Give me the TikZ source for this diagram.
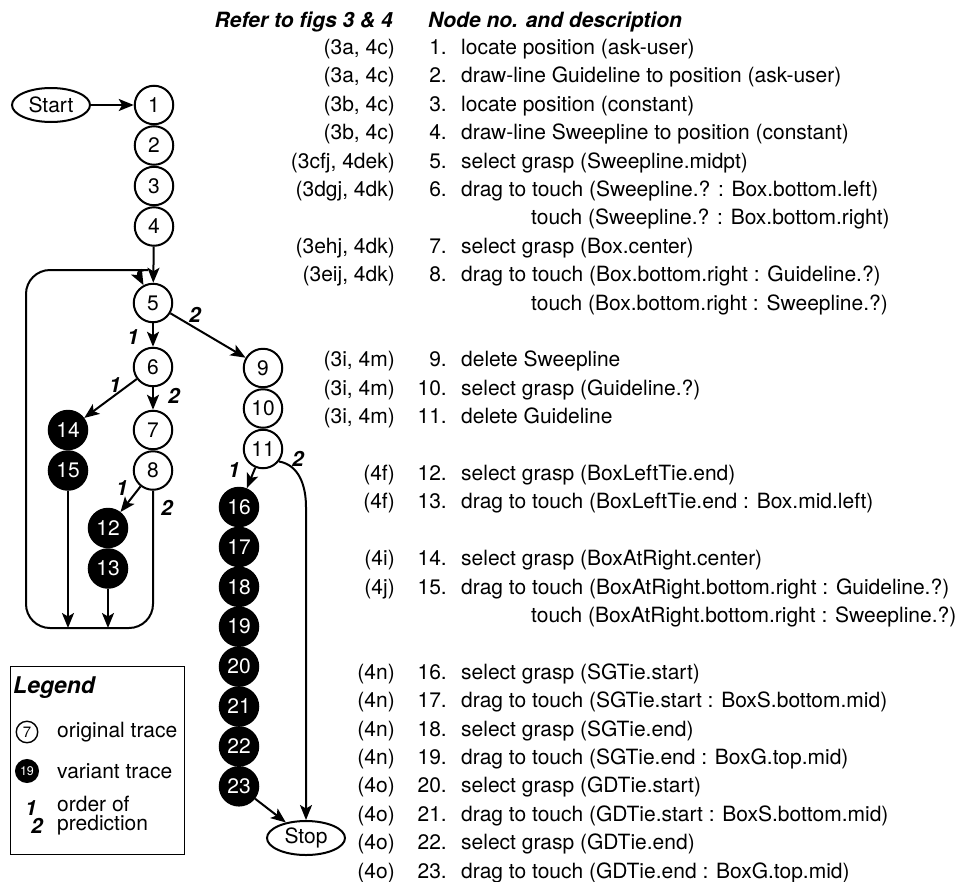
\documentclass[tikz,border=0pt]{standalone}
\usepackage{fontspec}
\setmainfont{TeX Gyre Heros}
\usetikzlibrary{arrows.meta,positioning,shapes.geometric,calc}

\newcommand\txtfont{\fontsize{21}{24}\selectfont}
\newcommand\numfont{\fontsize{21}{24}\selectfont}

\begin{document}
\begin{tikzpicture}[x=1pt,y=-1pt,
  trace/.style={circle,draw,line width=2pt,minimum size=38.5pt,inner sep=0pt,font=\numfont},
  variant/.style={trace,fill=black,text=white},
  term/.style={ellipse,draw,line width=2pt,minimum width=78pt,minimum height=34pt,inner sep=0pt,font=\numfont},
  arr/.style={-{Stealth[length=15pt,width=12pt,inset=3.5pt]},line width=2pt},
  order/.style={font=\numfont\bfseries\itshape,inner sep=0pt},
  refcol/.style={anchor=base east,inner sep=0pt,font=\txtfont},
  desccol/.style={anchor=base west,inner sep=0pt,font=\txtfont},
  headcol/.style={inner sep=0pt,font=\txtfont\bfseries\itshape},
]
\useasboundingbox (0,0) rectangle (958,881);

% original trace 1-11
\node[term] (start) at (51,105) {Start};
\node[trace] (n1) at (154,105) {1};
\node[trace,below=0pt of n1] (n2) {2};
\node[trace,below=0pt of n2] (n3) {3};
\node[trace,below=0pt of n3] (n4) {4};
\node[trace] (n5) at (153,303) {5};
\node[trace] (n6) at (153,367) {6};
\node[trace] (n7) at (153,430) {7};
\node[trace,below=0pt of n7] (n8) {8};
\node[trace] (n9) at (263,368) {9};
\node[trace,below=0pt of n9] (n10) {10};
\node[trace,below=0pt of n10] (n11) {11};

% variant trace
\node[variant] (n14) at (68,430) {14};
\node[variant,below=0pt of n14] (n15) {15};
\node[variant] (n12) at (108,528) {12};
\node[variant,below=0pt of n12] (n13) {13};
\node[variant] (n16) at (239,507) {16};
\foreach \a/\b in {16/17,17/18,18/19,19/20,20/21,21/22,22/23}
  \node[variant,below=-0.6pt of n\a] (n\b) {\b};
\node[term] (stop) at (306,838) {Stop};

% loop back to 5
\coordinate (loopBL) at (26,628);
\coordinate (loopTL) at (26,270);
\coordinate (loopTR) at (124,270);

\draw[arr] (start) -- (n1);
\draw[arr] (n4) -- (n5);
\draw[arr] (n5) -- (n6);
\draw[arr] (n5) -- (n9);
\draw[arr] (n6) -- (n14);
\draw[arr] (n6) -- (n7);
\draw[arr] (n8) -- (n12);
\draw[arr] (n11) -- (n16);
\draw[arr] (n23) -- (stop);
\draw[arr] (n15) -- (n15 |- loopBL);
\draw[arr] (n13) -- (n13 |- loopBL);
\draw[arr,rounded corners=24pt] (n8.south) -- (n8 |- loopBL) -- (loopBL) -- (loopTL)
  -- (loopTR) to[out=0,in=118] (n5.118);
\draw[arr] (n11.-38) to[out=-10,in=90] (stop.north |- n16) -- (stop.north);

% order of prediction
\node[order] (o56) at (133,337) {1};
\node[order] (o59) at (195,315) {2};
\node[order] (o614) at (115,385) {1};
\node[order] (o67) at (174,396) {2};
\node[order] (o812) at (122,488) {1};
\node[order] (o8loop) at (167,508) {2};
\node[order] (o1116) at (234,470) {1};
\node[order] (o11stop) at (298,459) {2};

% legend
\draw[line width=1pt] (10,666) rectangle (184,854);
\node[anchor=west,inner sep=0pt,font=\fontsize{23}{26}\selectfont\bfseries\itshape] (leghead) at (13,688) {Legend};
\node[trace,minimum size=21.5pt,line width=1.4pt,font=\fontsize{15}{16}\selectfont] (leg7) at (27,732) {7};
\node[desccol,anchor=west] (legorig) at (57,732) {original trace};
\node[variant,minimum size=22pt,font=\fontsize{12.5}{14}\selectfont] (leg19) at (27,771) {19};
\node[desccol,anchor=west] (legvar) at (57,771) {variant trace};
\node[order] (leg1) at (31,808) {1};
\node[order] (leg2) at (37,826) {2};
\node[anchor=west,inner sep=0pt,align=left,font=\fontsize{21}{19}\selectfont] (legord) at (57,816) {order of\\prediction};

% table of nodes
\node[headcol,anchor=base east] (hdref) at (393,27) {Refer to figs 3 \& 4};
\node[headcol,anchor=base west] (hddesc) at (428,27) {Node no. and description};
\foreach \i/\r/\n/\d in {
   1/{(3a, 4c)}/1/{locate position (ask-user)},
   2/{(3a, 4c)}/2/{draw-line Guideline to position (ask-user)},
   3/{(3b, 4c)}/3/{locate position (constant)},
   4/{(3b, 4c)}/4/{draw-line Sweepline to position (constant)},
   5/{(3cfj, 4dek)}/5/{select grasp (Sweepline.midpt)},
   6/{(3dgj, 4dk)}/6/{drag to touch (Sweepline.? : Box.bottom.left)},
   8/{(3ehj, 4dk)}/7/{select grasp (Box.center)},
   9/{(3eij, 4dk)}/8/{drag to touch (Box.bottom.right : Guideline.?)},
  12/{(3i, 4m)}/9/{delete Sweepline},
  13/{(3i, 4m)}/10/{select grasp (Guideline.?)},
  14/{(3i, 4m)}/11/{delete Guideline},
  16/{(4f)}/12/{select grasp (BoxLeftTie.end)},
  17/{(4f)}/13/{drag to touch (BoxLeftTie.end : Box.mid.left)},
  19/{(4i)}/14/{select grasp (BoxAtRight.center)},
  20/{(4j)}/15/{drag to touch (BoxAtRight.bottom.right : Guideline.?)},
  23/{(4n)}/16/{select grasp (SGTie.start)},
  24/{(4n)}/17/{drag to touch (SGTie.start : BoxS.bottom.mid)},
  25/{(4n)}/18/{select grasp (SGTie.end)},
  26/{(4n)}/19/{drag to touch (SGTie.end : BoxG.top.mid)},
  27/{(4o)}/20/{select grasp (GDTie.start)},
  28/{(4o)}/21/{drag to touch (GDTie.start : BoxS.bottom.mid)},
  29/{(4o)}/22/{select grasp (GDTie.end)},
  30/{(4o)}/23/{drag to touch (GDTie.end : BoxG.top.mid)}}{
  \node[refcol] (ref\n) at (395,{54.5+(\i-1)*28.4}) {\r};
  \node[refcol] (num\n) at (447,{54.5+(\i-1)*28.4}) {\n.};
  \node[desccol] (desc\n) at (461,{54.5+(\i-1)*28.4}) {\d};
}
\node[desccol] (cont6) at (531,{54.5+6*28.4}) {touch (Sweepline.? : Box.bottom.right)};
\node[desccol] (cont8) at (531,{54.5+9*28.4}) {touch (Box.bottom.right : Sweepline.?)};
\node[desccol] (cont15) at (531,{54.5+20*28.4}) {touch (BoxAtRight.bottom.right : Sweepline.?)};
\end{tikzpicture}
\end{document}
